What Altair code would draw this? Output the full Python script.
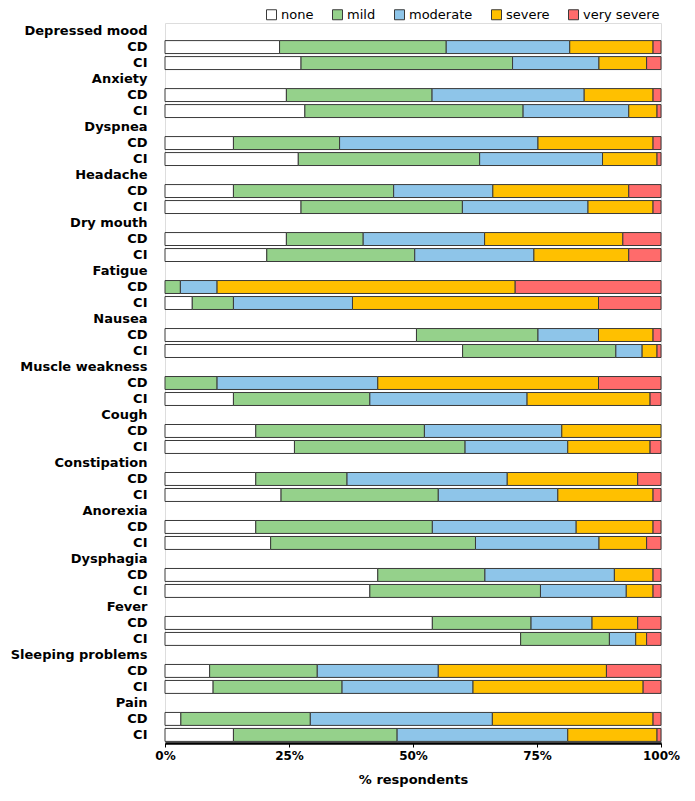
import altair as alt
import pandas as pd

symptoms = ["Depressed mood", "Anxiety", "Dyspnea", "Headache", "Dry mouth", "Fatigue",
            "Nausea", "Muscle weakness", "Cough", "Constipation", "Anorexia", "Dysphagia",
            "Fever", "Sleeping problems", "Pain"]
groups = ["CD", "CI"]
severities = ["none", "mild", "moderate", "severe", "very severe"]
colors = ["#FFFFFF", "#95D18B", "#8EC5E9", "#FFC000", "#FF6B6B"]

# % respondents, CD group
cd_none = [23.1, 24.5, 13.8, 13.8, 24.5, 0.0, 50.7, 0.0, 18.3, 18.3, 18.3, 42.9, 53.9, 9.0, 3.2]
cd_mild = [33.6, 29.4, 21.4, 32.3, 15.5, 3.1, 24.5, 10.5, 34.0, 18.4, 35.6, 21.6, 19.9, 21.7, 26.1]
cd_moderate = [24.9, 30.7, 40.0, 20.0, 24.5, 7.4, 12.2, 32.4, 27.7, 32.3, 29.0, 26.1, 12.3, 24.4, 36.7]
cd_severe = [16.8, 13.9, 23.2, 27.4, 27.9, 60.1, 11.0, 44.5, 20.0, 26.3, 15.5, 7.8, 9.2, 33.9, 32.4]
cd_very_severe = [1.6, 1.6, 1.6, 6.5, 7.7, 29.4, 1.6, 12.6, 0.0, 4.7, 1.6, 1.6, 4.7, 11.0, 1.6]

# % respondents, CI group
ci_none = [27.4, 28.2, 26.9, 27.4, 20.5, 5.5, 60.0, 13.8, 26.1, 23.4, 21.3, 41.3, 71.7, 9.7, 13.8]
ci_mild = [42.6, 44.0, 36.6, 32.5, 29.8, 8.3, 30.9, 27.5, 34.4, 31.7, 41.3, 34.4, 17.9, 26.0, 33.0]
ci_moderate = [17.4, 21.3, 24.8, 25.3, 24.0, 24.0, 5.3, 31.7, 20.7, 24.1, 24.9, 17.3, 5.3, 26.4, 34.4]
ci_severe = [9.6, 5.7, 11.0, 13.1, 19.1, 49.6, 3.0, 24.8, 16.6, 19.2, 9.6, 5.4, 2.2, 34.3, 18.0]
ci_very_severe = [2.9, 0.8, 0.8, 1.6, 6.5, 12.6, 0.8, 2.2, 2.2, 1.6, 2.9, 1.6, 2.9, 3.6, 0.8]

series = {
    "CD": [cd_none, cd_mild, cd_moderate, cd_severe, cd_very_severe],
    "CI": [ci_none, ci_mild, ci_moderate, ci_severe, ci_very_severe],
}

rows = []
for i, s in enumerate(symptoms):
    for g in groups:
        for k, sev in enumerate(severities):
            v = series[g][k][i]
            if v > 0:
                rows.append({"row": f"{s}|{g}", "severity": sev, "order": k, "value": v})
df = pd.DataFrame(rows)

y_domain = []
for s in symptoms:
    y_domain += [s, f"{s}|CD", f"{s}|CI"]

FONT = "DejaVu Sans"

chart = alt.Chart(df).mark_bar(stroke="#3a3a3a", strokeWidth=1).encode(
    x=alt.X("value:Q", stack="normalize",
            scale=alt.Scale(domain=[0, 1], nice=False),
            axis=alt.Axis(title="% respondents", values=[0, 0.25, 0.5, 0.75, 1], format=".0%",
                          grid=False, domainColor="black", domainWidth=2.5,
                          tickColor="black", tickSize=4, labelPadding=3, labelFlush=False,
                          labelFontWeight="bold", labelFontSize=12, labelColor="black",
                          titleFontWeight="bold", titleFontSize=13, titleColor="black",
                          titlePadding=12, labelFont=FONT, titleFont=FONT)),
    y=alt.Y("row:N", scale=alt.Scale(domain=y_domain, paddingInner=0.19, paddingOuter=0.1),
            axis=alt.Axis(title=None, domain=False, ticks=False, labelPadding=18,
                          labelFontWeight="bold", labelFontSize=13, labelColor="black",
                          labelFont=FONT, labelAlign="right",
                          labelExpr="indexof(datum.label, '|') >= 0 ? split(datum.label, '|')[1] : datum.label")),
    color=alt.Color("severity:N", scale=alt.Scale(domain=severities, range=colors),
                    legend=alt.Legend(title=None, orient="none", direction="horizontal",
                                      legendX=100, legendY=-15, symbolType="square",
                                      symbolSize=100, symbolStrokeColor="#3a3a3a",
                                      symbolStrokeWidth=1, labelFontSize=13, labelFont=FONT,
                                      labelColor="black", columnPadding=16, labelOffset=3)),
    order=alt.Order("order:Q", sort="ascending"),
).properties(
    width=496, height=720,
    autosize=alt.AutoSizeParams(type="none"),
    padding={"left": 157, "top": 15, "right": 25, "bottom": 45},
).configure_view(strokeWidth=0).configure(font=FONT)

chart.save("out.html", embed_options={"renderer": "svg", "actions": False})
